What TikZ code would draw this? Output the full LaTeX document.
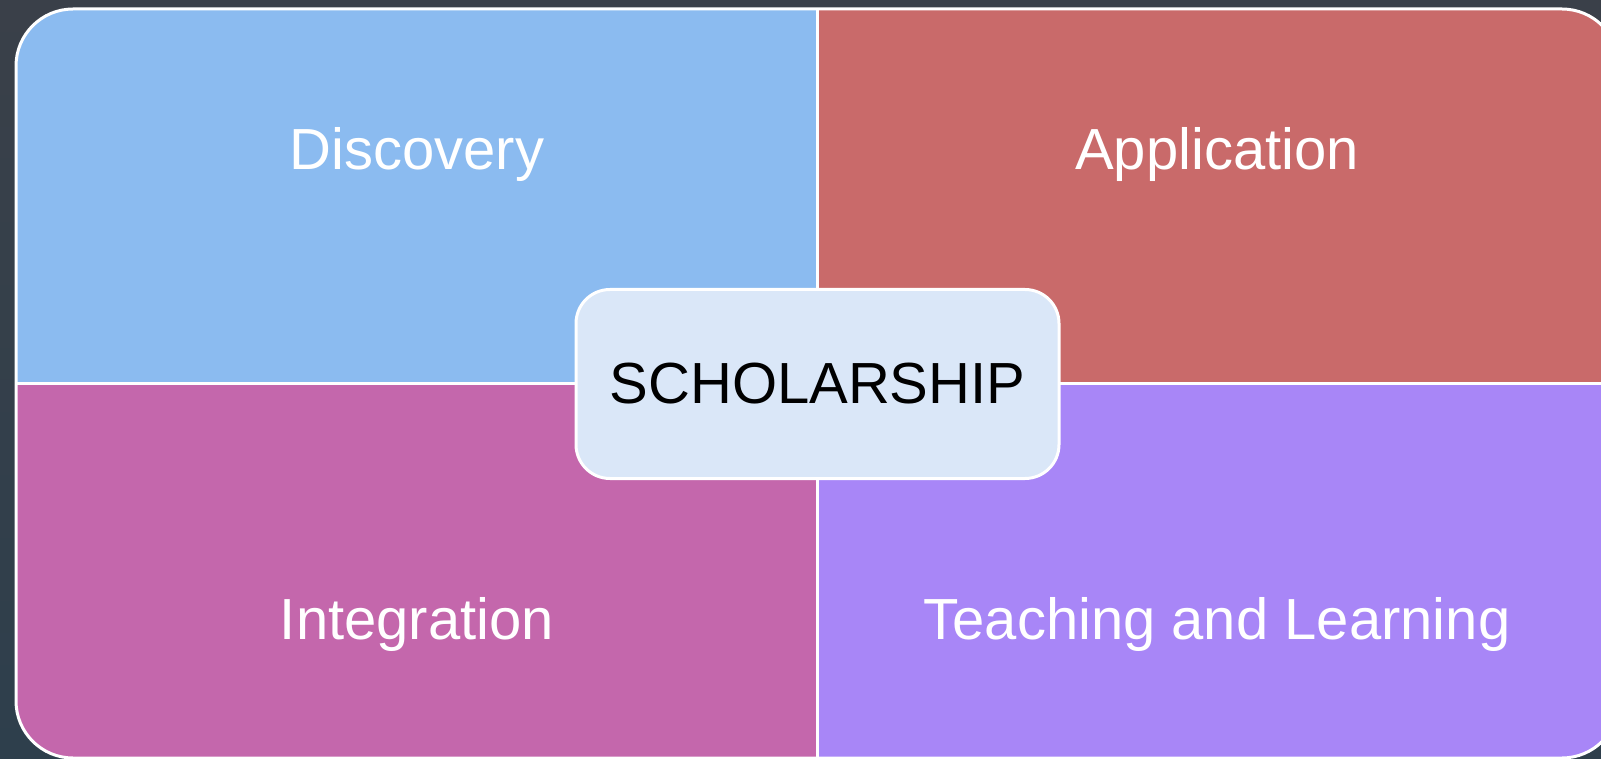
\documentclass[tikz,border=0pt]{standalone}
\usepackage{fontspec}
\setmainfont{Liberation Sans}
\definecolor{bgtop}{HTML}{3A4049}
\definecolor{bgbot}{HTML}{2E3F4C}
\definecolor{discov}{HTML}{8BBBF0}
\definecolor{applic}{HTML}{C96A6A}
\definecolor{integr}{HTML}{C467AC}
\definecolor{teach}{HTML}{A886F7}
\definecolor{centre}{HTML}{DAE7F8}
\begin{document}
\begin{tikzpicture}[x=0.5pt, y=-0.5pt,
    quadlabel/.style={anchor=base, text=white, font=\fontsize{29}{34}\selectfont},
    hub/.style={draw=white, line width=1.5pt, fill=centre, rounded corners=17pt,
        minimum width=241.5pt, minimum height=94.5pt, inner sep=0pt,
        font=\fontsize{29}{34}\selectfont}]

        % Background
        \shade[top color=bgtop, bottom color=bgbot] (0,0) rectangle (1601,759);
        \useasboundingbox (0,0) rectangle (1601,759);
        \clip (0,0) rectangle (1601,759);

        % Quadrants
        \begin{scope}
            \clip[rounded corners=28.5pt] (16,9) rectangle (1619,758);
            \fill[discov] (16,9) rectangle (817.5,383.5);
            \fill[applic] (817.5,9) rectangle (1619,383.5);
            \fill[integr] (16,383.5) rectangle (817.5,758);
            \fill[teach] (817.5,383.5) rectangle (1619,758);
            % Dividers
            \draw[white, line width=1.5pt] (817.5,9) -- (817.5,758);
            \draw[white, line width=1.5pt] (16,383.5) -- (1619,383.5);
        \end{scope}
        \draw[white, line width=1.5pt, rounded corners=28.5pt] (16,9) rectangle (1619,758);

        % Labels
        \node[quadlabel] (discovery) at (417,170) {Discovery};
        \node[quadlabel] (application) at (1217,170) {Application};
        \node[quadlabel] (integration) at (417,639) {Integration};
        \node[quadlabel] (teaching) at (1217,639) {Teaching and Learning};

        % Centre
        \node[hub] (scholarship) at (817.5,384) {SCHOLARSHIP};
    \end{tikzpicture}
\end{document}
